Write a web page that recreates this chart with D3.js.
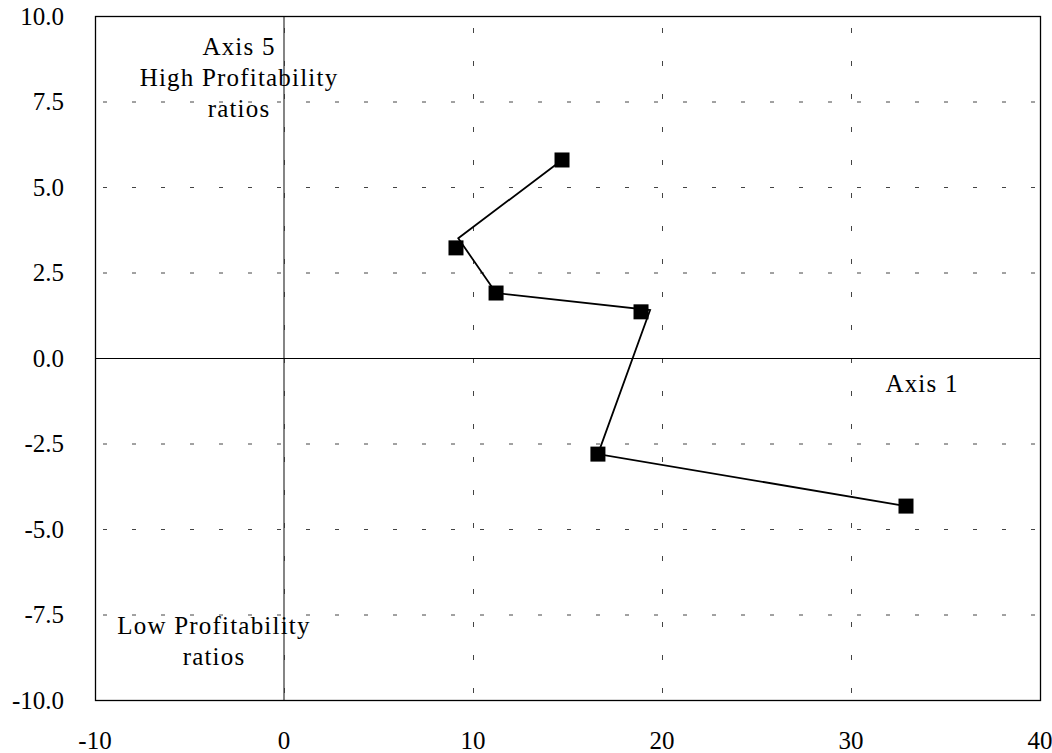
<!DOCTYPE html>
<html>
<head>
<meta charset="utf-8">
<script src="https://cdn.jsdelivr.net/npm/d3@7"></script>
<style>
  html, body { margin: 0; padding: 0; background: #fff; }
  svg text { font-family: "Liberation Serif", "DejaVu Serif", serif; fill: #000; }
</style>
</head>
<body>
<svg id="chart" width="1052" height="753"></svg>
<script>
// Scores of the observations on factor axes 1 and 5
const axis1Scores = [14.71, 9.10, 11.22, 18.89, 16.61, 32.91];
const axis5Scores = [5.79, 3.22, 1.90, 1.35, -2.81, -4.33];

// Vertices of the connecting trajectory
const pathAxis1 = [14.71, 9.22, 11.22, 19.37, 16.61, 32.91];
const pathAxis5 = [5.79, 3.50, 1.90, 1.40, -2.81, -4.33];

// Axis ticks
const xTicks = [-10, 0, 10, 20, 30, 40];
const yTicks = [-10, -7.5, -5, -2.5, 0, 2.5, 5, 7.5, 10];

// Quadrant annotations
const topNote = ["Axis 5", "High Profitability", "ratios"];
const bottomNote = ["Low Profitability", "ratios"];
const axis1Label = "Axis 1";

const svg = d3.select("#chart");
const plot = { left: 95, right: 1040, top: 16, bottom: 700 };

const x = d3.scaleLinear().domain([-10, 40]).range([plot.left, plot.right]);
const y = d3.scaleLinear().domain([-10, 10]).range([plot.bottom, plot.top]);

// plain hyphen for negative numbers
const hyphen = f => d => f(d).replace("\u2212", "-");

// Dashed grid
const grid = svg.append("g");
grid.selectAll("line.v").data(xTicks.slice(1, -1)).join("line")
  .attr("x1", d => x(d) + 0.5).attr("x2", d => x(d) + 0.5)
  .attr("y1", plot.top).attr("y2", plot.bottom)
  .attr("stroke", "#444").attr("stroke-width", 1)
  .attr("stroke-dasharray", "5,28").attr("stroke-dashoffset", -12);
grid.selectAll("line.h").data(yTicks.slice(1, -1)).join("line")
  .attr("x1", plot.left).attr("x2", plot.right)
  .attr("y1", d => y(d) + 0.5).attr("y2", d => y(d) + 0.5)
  .attr("stroke", "#444").attr("stroke-width", 1)
  .attr("stroke-dasharray", "4,25").attr("stroke-dashoffset", -8);

// Zero axes
svg.append("line")
  .attr("x1", x(0)).attr("x2", x(0)).attr("y1", plot.top).attr("y2", plot.bottom)
  .attr("stroke", "#333").attr("stroke-width", 1.2);
svg.append("line")
  .attr("x1", plot.left).attr("x2", plot.right).attr("y1", y(0) + 0.5).attr("y2", y(0) + 0.5)
  .attr("stroke", "#000").attr("stroke-width", 1.2);

// Frame
svg.append("rect")
  .attr("x", plot.left + 0.5).attr("y", plot.top + 0.5)
  .attr("width", plot.right - plot.left).attr("height", plot.bottom - plot.top)
  .attr("fill", "none").attr("stroke", "#000").attr("stroke-width", 1.3);

// Tick labels
svg.append("g").selectAll("text").data(xTicks).join("text")
  .attr("x", d => x(d)).attr("y", 749)
  .attr("text-anchor", "middle").attr("font-size", 25)
  .text(hyphen(d3.format("d")));
svg.append("g").selectAll("text").data(yTicks).join("text")
  .attr("x", 64).attr("y", d => y(d)).attr("dy", "0.35em")
  .attr("text-anchor", "end").attr("font-size", 25)
  .text(hyphen(d3.format(".1f")));

// Trajectory
const pts = pathAxis1.map((v, i) => [v, pathAxis5[i]]);
svg.append("path")
  .attr("d", d3.line().x(d => x(d[0])).y(d => y(d[1]))(pts))
  .attr("fill", "none").attr("stroke", "#000").attr("stroke-width", 1.8);

// Square markers
const obs = axis1Scores.map((v, i) => [v, axis5Scores[i]]);
const size = 15;
svg.append("g").selectAll("rect").data(obs).join("rect")
  .attr("x", d => x(d[0]) - size / 2).attr("y", d => y(d[1]) - size / 2)
  .attr("width", size).attr("height", size).attr("fill", "#000");

// Annotations
const ann = svg.append("g").attr("font-size", 25).attr("text-anchor", "middle")
  .attr("letter-spacing", 1.2);
ann.selectAll("text.top").data(topNote).join("text")
  .attr("x", 239).attr("y", (d, i) => 55 + i * 31).text(d => d);
ann.selectAll("text.bot").data(bottomNote).join("text")
  .attr("x", 214).attr("y", (d, i) => 634 + i * 31).text(d => d);
ann.append("text").attr("x", 922).attr("y", 392).text(axis1Label);
</script>
</body>
</html>
